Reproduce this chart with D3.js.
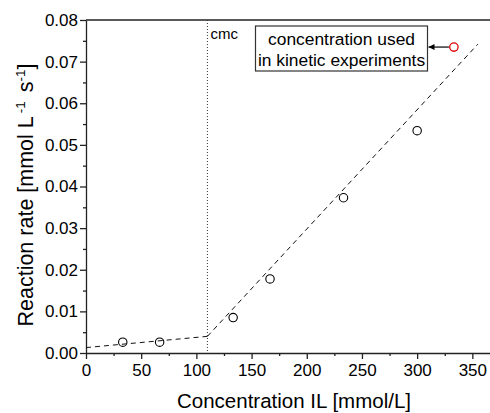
<!DOCTYPE html>
<html>
<head>
<meta charset="utf-8">
<script src="https://cdn.jsdelivr.net/npm/d3@7"></script>
<style>
  body { margin: 0; background: #fff; }
  text { font-family: "Liberation Sans", Arial, sans-serif; }
</style>
</head>
<body>
<div id="my_dataviz"></div>
<script>
// measured points
const conc = [33.3, 66.7, 133.3, 166.7, 233.3, 300];
const rate = [0.0026, 0.0026, 0.0085, 0.0178, 0.0373, 0.0534];
// point used in kinetic experiments
const usedConc = [333.3];
const usedRate = [0.0735];
// dashed fit lines (below / above cmc)
const fitLowX = [0, 110];
const fitLowY = [0.0013, 0.0040];
const fitHighX = [110, 355];
const fitHighY = [0.0040, 0.0742];
const cmc = 110;
const xTicks = [0, 50, 100, 150, 200, 250, 300, 350];
const yTicks = [0, 0.01, 0.02, 0.03, 0.04, 0.05, 0.06, 0.07, 0.08];

const margin = {top: 20, right: 0, bottom: 60, left: 86},
    width = 490 - margin.left - margin.right,
    height = 413 - margin.top - margin.bottom;

const svg = d3.select("#my_dataviz")
  .append("svg")
    .attr("width", 490)
    .attr("height", 413)
  .append("g")
    .attr("transform", `translate(${margin.left}, ${margin.top})`);

const x = d3.scaleLinear().domain([0, 366]).range([0, width]);
const y = d3.scaleLinear().domain([0, 0.08]).range([333, 0]);
const h = 333;

// minor ticks
svg.append("g")
  .attr("transform", `translate(0, ${h})`)
  .call(d3.axisBottom(x).tickValues(d3.range(25, 366, 50)).tickSize(3).tickFormat(""))
  .call(g => g.select(".domain").remove());
svg.append("g")
  .call(d3.axisLeft(y).tickValues(d3.range(0.005, 0.08, 0.01)).tickSize(3).tickFormat(""))
  .call(g => g.select(".domain").remove());

// main axes
const xAxis = svg.append("g")
  .attr("transform", `translate(0, ${h})`)
  .call(d3.axisBottom(x).tickValues(xTicks).tickSize(6).tickPadding(5).tickSizeOuter(0));
xAxis.selectAll("text").attr("font-size", 17).attr("fill", "#000");

const yAxis = svg.append("g")
  .call(d3.axisLeft(y).tickValues(yTicks).tickSize(6).tickPadding(2).tickSizeOuter(0).tickFormat(d3.format(".2f")));
yAxis.selectAll("text").attr("font-size", 17).attr("fill", "#000");

svg.selectAll(".domain, .tick line").attr("stroke", "#222").attr("stroke-width", 1.3);

// top frame line
svg.append("line")
  .attr("x1", 0).attr("x2", width)
  .attr("y1", 0).attr("y2", 0)
  .attr("stroke", "#222").attr("stroke-width", 1.3);

// cmc line
svg.append("line")
  .attr("x1", x(cmc)).attr("x2", x(cmc))
  .attr("y1", 0).attr("y2", h)
  .attr("stroke", "#333").attr("stroke-width", 1)
  .attr("stroke-dasharray", "1,2");
svg.append("text")
  .attr("x", x(cmc) + 3).attr("y", 19)
  .attr("font-size", 15)
  .text("cmc");

// fit lines
const line = d3.line().x(d => x(d[0])).y(d => y(d[1]));
[[fitLowX, fitLowY], [fitHighX, fitHighY]].forEach(function(f) {
  svg.append("path")
    .datum(d3.zip(f[0], f[1]))
    .attr("d", line)
    .attr("fill", "none")
    .attr("stroke", "#111")
    .attr("stroke-width", 1)
    .attr("stroke-dasharray", "5,4");
});

// points
svg.selectAll("circle.pt")
  .data(d3.zip(conc, rate))
  .join("circle")
    .attr("class", "pt")
    .attr("cx", d => x(d[0]))
    .attr("cy", d => y(d[1]))
    .attr("r", 4.2)
    .attr("fill", "none")
    .attr("stroke", "#000")
    .attr("stroke-width", 1.1);

svg.selectAll("circle.used")
  .data(d3.zip(usedConc, usedRate))
  .join("circle")
    .attr("class", "used")
    .attr("cx", d => x(d[0]))
    .attr("cy", d => y(d[1]))
    .attr("r", 4.2)
    .attr("fill", "none")
    .attr("stroke", "#e00000")
    .attr("stroke-width", 1.3);

// annotation box
const bx = 255.5 - margin.left, by = 26 - margin.top, bw = 172, bh = 45;
svg.append("rect")
  .attr("x", bx).attr("y", by).attr("width", bw).attr("height", bh)
  .attr("fill", "#fff").attr("stroke", "#333").attr("stroke-width", 1.2);
svg.append("text")
  .attr("x", bx + bw / 2).attr("y", by + 19)
  .attr("text-anchor", "middle").attr("font-size", 17.4)
  .text("concentration used");
svg.append("text")
  .attr("x", bx + bw / 2).attr("y", by + 40)
  .attr("text-anchor", "middle").attr("font-size", 17.4)
  .text("in kinetic experiments");

// arrow
svg.append("defs").append("marker")
  .attr("id", "arr")
  .attr("viewBox", "0 0 10 10")
  .attr("refX", 10).attr("refY", 5)
  .attr("markerWidth", 8).attr("markerHeight", 6)
  .attr("markerUnits", "userSpaceOnUse")
  .attr("orient", "auto")
  .append("path").attr("d", "M0,0L10,5L0,10z").attr("fill", "#000");
svg.append("line")
  .attr("x1", x(usedConc[0]) - 5).attr("y1", y(usedRate[0]))
  .attr("x2", bx + bw + 1).attr("y2", y(usedRate[0]))
  .attr("stroke", "#000").attr("stroke-width", 1.2)
  .attr("marker-end", "url(#arr)");

// axis titles
svg.append("text")
  .attr("x", 294 - margin.left).attr("y", 408 - margin.top)
  .attr("text-anchor", "middle").attr("font-size", 20.5)
  .text("Concentration IL [mmol/L]");

const yl = svg.append("text")
  .attr("transform", `translate(${33 - margin.left}, ${195 - margin.top}) rotate(-90)`)
  .attr("text-anchor", "middle").attr("font-size", 21.5);
yl.append("tspan").text("Reaction rate [mmol L");
yl.append("tspan").attr("dx", 3).attr("dy", -8).attr("font-size", 13.5).text("-1");
yl.append("tspan").attr("dx", 3).attr("dy", 8).text(" s");
yl.append("tspan").attr("dy", -8).attr("font-size", 13.5).text("-1");
yl.append("tspan").attr("dy", 8).text("]");
</script>
</body>
</html>
